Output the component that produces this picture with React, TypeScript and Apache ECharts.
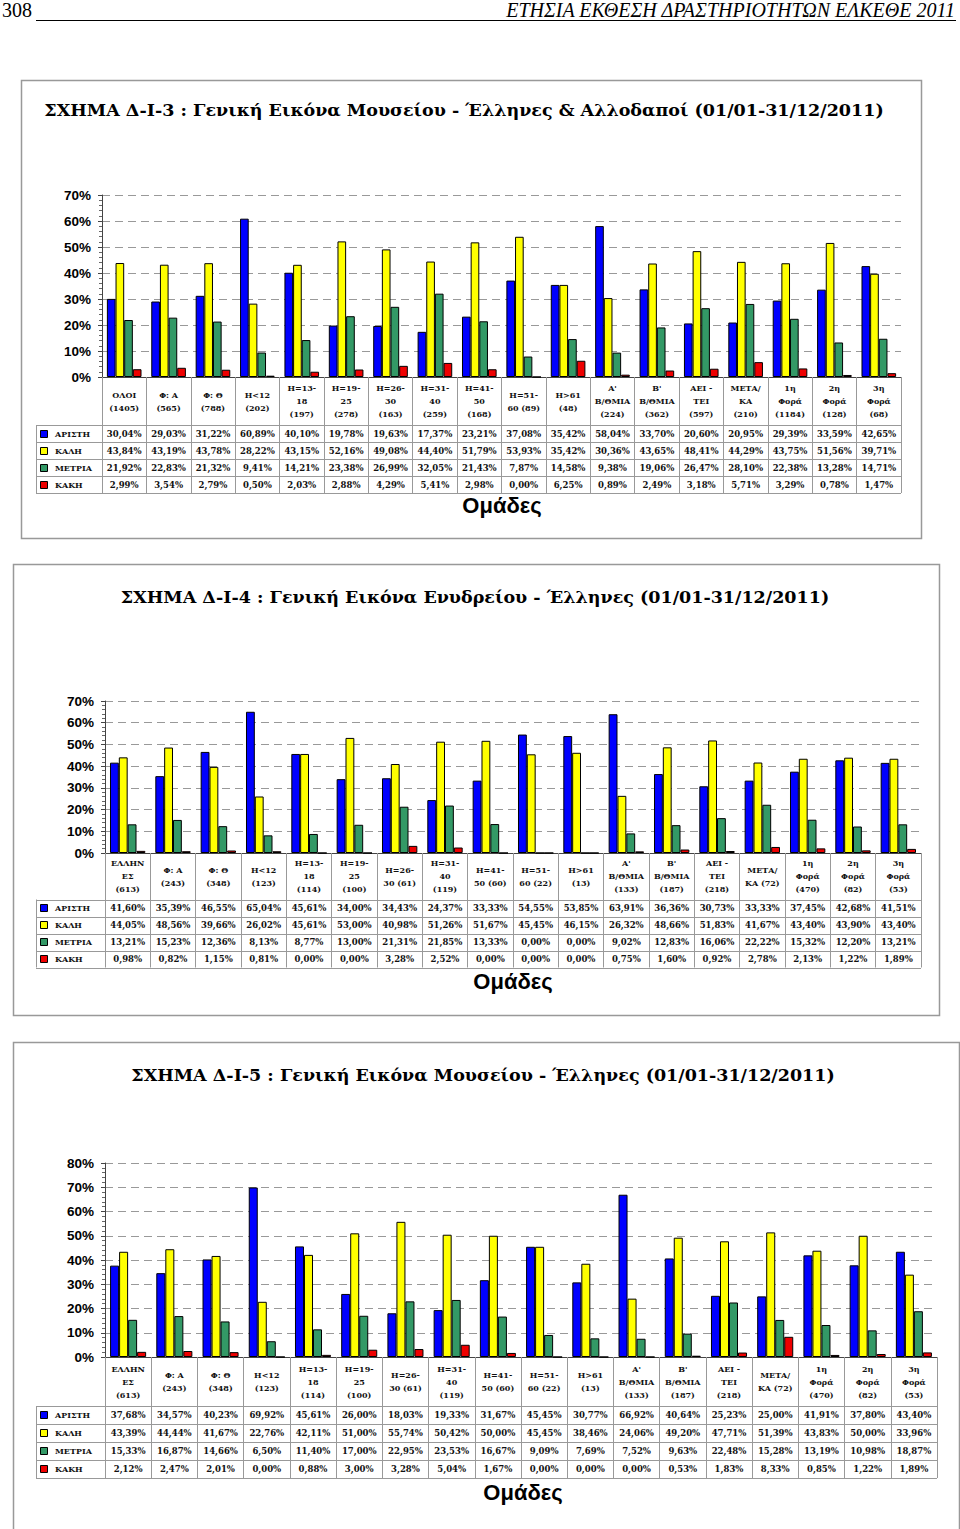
import React, { useEffect, useRef } from 'react';
import * as echarts from 'echarts';

// ---------- DATA ----------
const seriesNames = ['ΑΡΙΣΤΗ', 'ΚΑΛΗ', 'ΜΕΤΡΙΑ', 'ΚΑΚΗ'];
const seriesColors = ['#0000FF', '#FFFF00', '#339966', '#EE0000'];

const categories1 = [
  'ΟΛΟΙ\n(1405)', 'Φ: Α\n(565)', 'Φ: Θ\n(788)', 'Η<12\n(202)', 'Η=13-\n18\n(197)', 'Η=19-\n25\n(278)',
  'Η=26-\n30\n(163)', 'Η=31-\n40\n(259)', 'Η=41-\n50\n(168)', 'Η=51-\n60 (89)', 'Η>61\n(48)',
  "Α'\nΒ/ΘΜΙΑ\n(224)", "Β'\nΒ/ΘΜΙΑ\n(362)", 'ΑΕΙ -\nΤΕΙ\n(597)', 'ΜΕΤΑ/\nΚΑ\n(210)',
  '1η\nΦορά\n(1184)', '2η\nΦορά\n(128)', '3η\nΦορά\n(68)',
];
const aristi1 = [30.04, 29.03, 31.22, 60.89, 40.10, 19.78, 19.63, 17.37, 23.21, 37.08, 35.42, 58.04, 33.70, 20.60, 20.95, 29.39, 33.59, 42.65];
const kali1 = [43.84, 43.19, 43.78, 28.22, 43.15, 52.16, 49.08, 44.40, 51.79, 53.93, 35.42, 30.36, 43.65, 48.41, 44.29, 43.75, 51.56, 39.71];
const metria1 = [21.92, 22.83, 21.32, 9.41, 14.21, 23.38, 26.99, 32.05, 21.43, 7.87, 14.58, 9.38, 19.06, 26.47, 28.10, 22.38, 13.28, 14.71];
const kaki1 = [2.99, 3.54, 2.79, 0.50, 2.03, 2.88, 4.29, 5.41, 2.98, 0.00, 6.25, 0.89, 2.49, 3.18, 5.71, 3.29, 0.78, 1.47];

const categories2 = [
  'ΕΛΛΗΝ\nΕΣ\n(613)', 'Φ: Α\n(243)', 'Φ: Θ\n(348)', 'Η<12\n(123)', 'Η=13-\n18\n(114)', 'Η=19-\n25\n(100)',
  'Η=26-\n30 (61)', 'Η=31-\n40\n(119)', 'Η=41-\n50 (60)', 'Η=51-\n60 (22)', 'Η>61\n(13)',
  "Α'\nΒ/ΘΜΙΑ\n(133)", "Β'\nΒ/ΘΜΙΑ\n(187)", 'ΑΕΙ -\nΤΕΙ\n(218)', 'ΜΕΤΑ/\nΚΑ (72)',
  '1η\nΦορά\n(470)', '2η\nΦορά\n(82)', '3η\nΦορά\n(53)',
];
const aristi2 = [41.60, 35.39, 46.55, 65.04, 45.61, 34.00, 34.43, 24.37, 33.33, 54.55, 53.85, 63.91, 36.36, 30.73, 33.33, 37.45, 42.68, 41.51];
const kali2 = [44.05, 48.56, 39.66, 26.02, 45.61, 53.00, 40.98, 51.26, 51.67, 45.45, 46.15, 26.32, 48.66, 51.83, 41.67, 43.40, 43.90, 43.40];
const metria2 = [13.21, 15.23, 12.36, 8.13, 8.77, 13.00, 21.31, 21.85, 13.33, 0.00, 0.00, 9.02, 12.83, 16.06, 22.22, 15.32, 12.20, 13.21];
const kaki2 = [0.98, 0.82, 1.15, 0.81, 0.00, 0.00, 3.28, 2.52, 0.00, 0.00, 0.00, 0.75, 1.60, 0.92, 2.78, 2.13, 1.22, 1.89];

const categories3 = categories2;
const aristi3 = [37.68, 34.57, 40.23, 69.92, 45.61, 26.00, 18.03, 19.33, 31.67, 45.45, 30.77, 66.92, 40.64, 25.23, 25.00, 41.91, 37.80, 43.40];
const kali3 = [43.39, 44.44, 41.67, 22.76, 42.11, 51.00, 55.74, 50.42, 50.00, 45.45, 38.46, 24.06, 49.20, 47.71, 51.39, 43.83, 50.00, 33.96];
const metria3 = [15.33, 16.87, 14.66, 6.50, 11.40, 17.00, 22.95, 23.53, 16.67, 9.09, 7.69, 7.52, 9.63, 22.48, 15.28, 13.19, 10.98, 18.87];
const kaki3 = [2.12, 2.47, 2.01, 0.00, 0.88, 3.00, 3.28, 5.04, 1.67, 0.00, 0.00, 0.00, 0.53, 1.83, 8.33, 0.85, 1.22, 1.89];

const titles = [
  'ΣΧΗΜΑ Δ-Ι-3 : Γενική Εικόνα Μουσείου - Έλληνες & Αλλοδαποί (01/01-31/12/2011)',
  'ΣΧΗΜΑ Δ-Ι-4 : Γενική Εικόνα Ενυδρείου - Έλληνες (01/01-31/12/2011)',
  'ΣΧΗΜΑ Δ-Ι-5 : Γενική Εικόνα Μουσείου - Έλληνες (01/01-31/12/2011)',
];
const yMaxes = [70, 70, 80];
const yInterval = 10;
const xAxisName = 'Ομάδες';
const pageNumber = '308';
const pageHeader = 'ΕΤΗΣΙΑ ΕΚΘΕΣΗ ΔΡΑΣΤΗΡΙΟΤΗΤΩΝ ΕΛΚΕΘΕ 2011';

// ---------- LAYOUT ----------
const layouts = [
  { box: [21, 80, 900, 458], titleX: 464, titleY: 110, left: 102, right: 901, top: 195, bottom: 377, headerH: 48, rowH: 17, nameX: 502, nameY: 505 },
  { box: [13, 564, 926, 451], titleX: 475, titleY: 597, left: 105, right: 921, top: 701, bottom: 853, headerH: 46.5, rowH: 17, nameX: 513, nameY: 981 },
  { box: [13, 1042, 946, 500], titleX: 483, titleY: 1075, left: 105, right: 937, top: 1163, bottom: 1357, headerH: 49, rowH: 18, nameX: 523, nameY: 1492 },
];

const charts = [
  { categories: categories1, values: [aristi1, kali1, metria1, kaki1] },
  { categories: categories2, values: [aristi2, kali2, metria2, kaki2] },
  { categories: categories3, values: [aristi3, kali3, metria3, kaki3] },
];

const fmt = (v: number) => v.toFixed(2).replace('.', ',') + '%';
const SERIF = 'DejaVu Serif';

function buildOption() {
  const grid: any[] = [];
  const xAxis: any[] = [];
  const yAxis: any[] = [];
  const series: any[] = [];
  const graphic: any[] = [];

  // page header
  graphic.push({
    type: 'text', x: 2, y: 20,
    style: { text: pageNumber, font: '20px "Liberation Serif"', fill: '#000', verticalAlign: 'bottom' },
  });
  graphic.push({
    type: 'text', x: 955, y: 20,
    style: { text: pageHeader, font: 'italic 20px "Liberation Serif"', fill: '#000', align: 'right', verticalAlign: 'bottom' },
  });
  graphic.push({ type: 'line', shape: { x1: 36, y1: 20.5, x2: 956, y2: 20.5 }, style: { stroke: '#000', lineWidth: 1.2 } });

  charts.forEach((c, g) => {
    const L = layouts[g];
    const mainX = xAxis.length;
    grid.push({ left: L.left, width: L.right - L.left, top: L.top, height: L.bottom - L.top });
    const tableH = L.headerH + 4 * L.rowH;

    xAxis.push({
      type: 'category', gridIndex: g, data: c.categories, position: 'bottom',
      axisLine: { show: true, lineStyle: { color: '#444', width: 1 } },
      axisTick: { show: true, interval: 0, length: tableH, lineStyle: { color: '#999', width: 1 } },
      axisLabel: {
        interval: 0, margin: L.headerH / 2, verticalAlign: 'middle', align: 'center',
        fontFamily: SERIF, fontWeight: 'bold', fontSize: 8, lineHeight: 13, color: '#111',
      },
    });
    c.values.forEach((vals, k) => {
      xAxis.push({
        type: 'category', gridIndex: g, data: vals.map(fmt), position: 'bottom',
        offset: L.headerH + k * L.rowH,
        axisLine: { show: false }, axisTick: { show: false }, splitLine: { show: false },
        axisLabel: {
          interval: 0, margin: L.rowH / 2, verticalAlign: 'middle', align: 'center',
          fontFamily: SERIF, fontWeight: 'bold', fontSize: 8.5, color: '#111',
        },
      });
    });

    yAxis.push({
      type: 'value', gridIndex: g, min: 0, max: yMaxes[g], interval: yInterval,
      axisLabel: { formatter: '{value}%', margin: 11, fontFamily: 'Liberation Sans', fontWeight: 'bold', fontSize: 13.5, color: '#000' },
      axisLine: { show: true, lineStyle: { color: '#444', width: 1 } },
      axisTick: { show: true, length: 4, lineStyle: { color: '#444' } },
      minorTick: { show: true, splitNumber: 5, length: 3, lineStyle: { color: '#666' } },
      splitLine: { show: true, lineStyle: { type: [8, 5], color: '#999', width: 1 } },
    });

    c.values.forEach((vals, k) => {
      series.push({
        type: 'bar', name: seriesNames[k] + g, xAxisIndex: mainX, yAxisIndex: g, data: vals,
        barGap: '0%', barCategoryGap: '22%',
        itemStyle: { color: seriesColors[k], borderColor: '#000', borderWidth: 1 },
        emphasis: { disabled: true },
      });
    });

    // box
    graphic.push({
      type: 'rect', shape: { x: L.box[0] + 0.5, y: L.box[1] + 0.5, width: L.box[2], height: L.box[3] },
      style: { fill: 'none', stroke: '#999', lineWidth: 1.5 }, z: -1,
    });
    // title
    graphic.push({
      type: 'text', x: L.titleX, y: L.titleY,
      style: { text: titles[g], font: `bold 17.5px "${SERIF}"`, fill: '#000', align: 'center', verticalAlign: 'middle' },
    });
    // axis name
    graphic.push({
      type: 'text', x: L.nameX, y: L.nameY,
      style: { text: xAxisName, font: 'bold 22px "Liberation Sans"', fill: '#000', align: 'center', verticalAlign: 'middle' },
    });
    // table horizontal lines
    const t0 = L.bottom + L.headerH;
    for (let k = 0; k <= 4; k++) {
      const y = Math.round(t0 + k * L.rowH) + 0.5;
      graphic.push({ type: 'line', shape: { x1: 36, y1: y, x2: L.right, y2: y }, style: { stroke: '#999', lineWidth: 1 } });
    }
    graphic.push({ type: 'line', shape: { x1: 36.5, y1: t0, x2: 36.5, y2: t0 + 4 * L.rowH }, style: { stroke: '#999', lineWidth: 1 } });
    // legend keys
    seriesNames.forEach((nm, k) => {
      const cy = t0 + k * L.rowH + L.rowH / 2;
      graphic.push({ type: 'rect', shape: { x: 40.5, y: Math.round(cy - 4) + 0.5, width: 7, height: 7 }, style: { fill: seriesColors[k], stroke: '#000', lineWidth: 1 } });
      graphic.push({
        type: 'text', x: 55, y: cy,
        style: { text: nm, font: `bold 8px "${SERIF}"`, fill: '#111', verticalAlign: 'middle' },
      });
    });
  });

  return {
    animation: false,
    backgroundColor: '#fff',
    grid, xAxis, yAxis, series, graphic,
  };
}

export default function App() {
  const ref = useRef<HTMLDivElement>(null);
  useEffect(() => {
    const chart = echarts.init(ref.current!, null, { renderer: 'svg' });
    chart.setOption(buildOption() as any);
    return () => chart.dispose();
  }, []);
  return (
    <div
      ref={ref}
      style={{ position: 'absolute', left: 0, top: 0, width: 960, height: 1529, background: '#fff' }}
    />
  );
}
